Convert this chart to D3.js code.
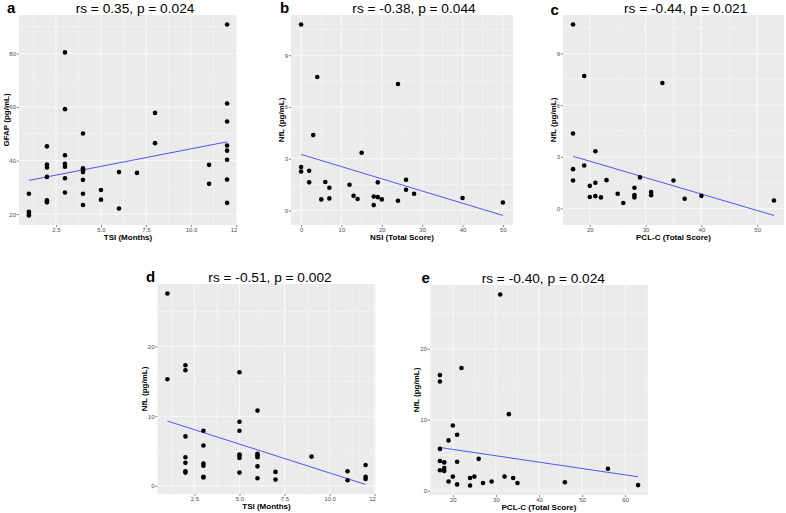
<!DOCTYPE html>
<html>
<head>
<meta charset="utf-8">
<script src="https://cdn.jsdelivr.net/npm/d3@7"></script>
<style>
  body { margin: 0; background: #fff; }
  svg { display: block; font-family: "Liberation Sans", Arial, sans-serif; }
</style>
</head>
<body>
<div id="chart"></div>
<script>
// panel a: TSI vs GFAP
const aTsi = [1, 1, 1, 1, 2, 2, 2, 2, 2, 2, 3, 3, 3, 3, 3, 3, 3, 4, 4, 4, 4, 4, 4, 4, 5, 5, 6, 6, 7, 8, 8, 11, 11, 12, 12, 12, 12, 12, 12, 12, 12];
const aGfap = [27.6, 20.9, 20.2, 19.5, 45.3, 38.5, 37.4, 33.9, 25.2, 24.4, 80.4, 59.2, 42.0, 38.8, 37.7, 33.4, 28.1, 50.1, 37.1, 36.4, 35.7, 32.8, 27.6, 23.4, 29.0, 25.4, 35.7, 22.1, 35.4, 57.8, 46.5, 38.4, 31.3, 90.8, 61.3, 54.6, 45.6, 43.7, 40.3, 32.9, 24.2];
const aFitX = [1, 12];
const aFitY = [32.6, 47.0];

// panel b: NSI vs NfL
const bNsi = [0, 0, 0, 2, 2, 3, 4, 5, 6, 7, 7, 12, 13, 14, 15, 18, 18, 19, 19, 20, 24, 24, 26, 26, 28, 40, 50];
const bNfl = [10.78, 2.52, 2.26, 2.30, 1.63, 4.37, 7.74, 0.64, 1.65, 1.32, 0.70, 1.49, 0.85, 0.66, 3.35, 0.81, 0.31, 1.63, 0.77, 0.64, 7.33, 0.56, 1.78, 1.20, 0.97, 0.72, 0.46];
const bFitX = [0, 50];
const bFitY = [3.25, -0.29];

// panel c: PCL-C vs NfL
const cPcl = [17, 17, 17, 17, 19, 19, 20, 20, 21, 21, 21, 22, 23, 25, 26, 28, 28, 28, 29, 31, 31, 33, 35, 37, 40, 53];
const cNfl = [10.68, 4.35, 2.28, 1.62, 7.69, 2.49, 1.31, 0.66, 3.32, 1.49, 0.71, 0.64, 1.64, 0.85, 0.31, 1.20, 0.77, 0.64, 1.80, 0.95, 0.77, 7.28, 1.62, 0.56, 0.73, 0.46];
const cFitX = [17, 53];
const cFitY = [3.03, -0.41];

// panel d: TSI vs NfL
const dTsi = [1, 1, 2, 2, 2, 2, 2, 2, 2, 3, 3, 3, 3, 3, 3, 5, 5, 5, 5, 5, 5, 5, 6, 6, 6, 6, 6, 6, 7, 7, 9, 11, 11, 12, 12, 12];
const dNfl = [27.6, 15.3, 17.3, 16.6, 7.1, 4.1, 3.3, 2.1, 1.9, 7.9, 5.8, 3.2, 2.9, 1.3, 1.2, 16.3, 9.2, 7.9, 4.5, 4.3, 4.0, 1.9, 10.8, 4.6, 4.4, 4.1, 2.8, 1.1, 2.0, 0.9, 4.2, 2.1, 0.8, 3.0, 1.3, 1.0];
const dFitX = [1, 12];
const dFitY = [9.3, 0.2];

// panel e: PCL-C vs NfL
const ePcl = [31, 22, 17, 17, 33, 20, 21, 19, 17, 17, 18, 21, 26, 18, 18, 17, 56, 20, 25, 24, 32, 34, 19, 27, 29, 35, 46, 21, 24, 63];
const eNfl = [27.65, 17.3, 16.3, 15.4, 10.8, 9.2, 7.9, 7.1, 5.9, 4.2, 4.0, 4.1, 4.5, 3.2, 2.8, 2.9, 3.1, 2.0, 2.0, 1.8, 2.0, 1.8, 1.3, 1.1, 1.3, 1.1, 1.2, 0.9, 0.75, 0.8];
const eFitX = [17, 63];
const eFitY = [6.1, 1.97];

// tick values
const tsiTicks = [2.5, 5, 7.5, 10, 12.5];
const gfapTicks = [20, 40, 60, 80];
const nsiTicks = [0, 10, 20, 30, 40, 50];
const pclTicksC = [20, 30, 40, 50];
const pclTicksE = [20, 30, 40, 50, 60];
const nflTicksSmall = [0, 3, 6, 9];
const nflTicksLarge = [0, 10, 20];

const letters = ['a', 'b', 'c', 'd', 'e'];
const titles = [
  'rs = 0.35, p = 0.024',
  'rs = -0.38, p = 0.044',
  'rs = -0.44, p = 0.021',
  'rs = -0.51, p = 0.002',
  'rs = -0.40, p = 0.024',
];
const xTitles = ['TSI (Months)', 'NSI (Total Score)', 'PCL-C (Total Score)', 'TSI (Months)', 'PCL-C (Total Score)'];
const yTitles = ['GFAP (pg/mL)', 'NfL (pg/mL)', 'NfL (pg/mL)', 'NfL (pg/mL)', 'NfL (pg/mL)'];

const width = 786;
const height = 513;

const svg = d3.select('#chart')
  .append('svg')
  .attr('width', width)
  .attr('height', height);

const panels = [
  { x: aTsi, y: aGfap, fx: aFitX, fy: aFitY, xt: tsiTicks, yt: gfapTicks, xf: '.1f', yf: 'd',
    left: 19, top: 15, w: 218, h: 210, yTitleOff: 13, letterX: 7, letterY: 12.7, titleX: 135 },
  { x: bNsi, y: bNfl, fx: bFitX, fy: bFitY, xt: nsiTicks, yt: nflTicksSmall, xf: 'd', yf: 'd',
    left: 291, top: 15, w: 222, h: 210, yTitleOff: 10, letterX: 280, letterY: 13.3, titleX: 414 },
  { x: cPcl, y: cNfl, fx: cFitX, fy: cFitY, xt: pclTicksC, yt: nflTicksSmall, xf: 'd', yf: 'd',
    left: 563, top: 15, w: 221, h: 210, yTitleOff: 10, letterX: 550.5, letterY: 14.5, titleX: 685.7 },
  { x: dTsi, y: dNfl, fx: dFitX, fy: dFitY, xt: tsiTicks, yt: nflTicksLarge, xf: '.1f', yf: 'd',
    left: 157.5, top: 284, w: 218, h: 210, yTitleOff: 13.5, letterX: 146, letterY: 282.3, titleX: 270 },
  { x: ePcl, y: eNfl, fx: eFitX, fy: eFitY, xt: pclTicksE, yt: nflTicksLarge, xf: 'd', yf: 'd',
    left: 430, top: 285, w: 218, h: 210, yTitleOff: 14.5, letterX: 421.5, letterY: 283.3, titleX: 543.3 },
];

// ggplot style 5% expansion
function expanded(values) {
  const [lo, hi] = d3.extent(values);
  const pad = (hi - lo) * 0.05;
  return [lo - pad, hi + pad];
}

function minorBreaks(ticks, domain) {
  const step = ticks[1] - ticks[0];
  const out = [];
  for (let v = ticks[0] - step / 2; v <= domain[1]; v += step) {
    if (v >= domain[0]) out.push(v);
  }
  return out;
}

panels.forEach((p, i) => {
  const x = d3.scaleLinear()
    .domain(expanded(p.x.concat(p.fx)))
    .range([0, p.w]);
  const y = d3.scaleLinear()
    .domain(expanded(p.y.concat(p.fy)))
    .range([p.h, 0]);

  const g = svg.append('g')
    .attr('transform', `translate(${p.left}, ${p.top})`);

  g.append('rect')
    .attr('width', p.w)
    .attr('height', p.h)
    .attr('fill', '#EBEBEB');

  // minor grid
  g.selectAll('.minor-x')
    .data(minorBreaks(p.xt, x.domain()))
    .enter().append('line')
    .attr('x1', (d) => x(d)).attr('x2', (d) => x(d))
    .attr('y1', 0).attr('y2', p.h)
    .attr('stroke', '#fff').attr('stroke-width', 0.35);
  g.selectAll('.minor-y')
    .data(minorBreaks(p.yt, y.domain()))
    .enter().append('line')
    .attr('y1', (d) => y(d)).attr('y2', (d) => y(d))
    .attr('x1', 0).attr('x2', p.w)
    .attr('stroke', '#fff').attr('stroke-width', 0.35);

  // major grid
  g.selectAll('.major-x')
    .data(p.xt.filter((d) => d <= x.domain()[1]))
    .enter().append('line')
    .attr('x1', (d) => x(d)).attr('x2', (d) => x(d))
    .attr('y1', 0).attr('y2', p.h)
    .attr('stroke', '#fff').attr('stroke-width', 0.7);
  g.selectAll('.major-y')
    .data(p.yt)
    .enter().append('line')
    .attr('y1', (d) => y(d)).attr('y2', (d) => y(d))
    .attr('x1', 0).attr('x2', p.w)
    .attr('stroke', '#fff').attr('stroke-width', 0.7);

  // x axis, labels past the panel edge are cut like in the figure
  const clipId = `clip-x-${i}`;
  svg.append('clipPath')
    .attr('id', clipId)
    .append('rect')
    .attr('x', -20).attr('y', -2)
    .attr('width', p.w + 20.5).attr('height', 20);

  const xAxisGroup = g.append('g')
    .attr('transform', `translate(0, ${p.h})`)
    .attr('clip-path', `url(#${clipId})`)
    .call(d3.axisBottom(x).tickValues(p.xt).tickSize(2.2).tickPadding(0.8)
      .tickFormat(d3.format(p.xf)));

  const yAxisGroup = g.append('g')
    .call(d3.axisLeft(y).tickValues(p.yt).tickSize(2.2).tickPadding(0.8)
      .tickFormat(d3.format(p.yf)));

  [xAxisGroup, yAxisGroup].forEach((ax) => {
    ax.select('.domain').remove();
    ax.selectAll('line').attr('stroke', '#333').attr('stroke-width', 0.6);
    ax.selectAll('text')
      .attr('fill', '#4D4D4D')
      .style('font-size', '6px')
      .style('font-family', '"Liberation Sans", Arial, sans-serif');
  });

  // regression line
  g.append('line')
    .attr('x1', x(p.fx[0])).attr('y1', y(p.fy[0]))
    .attr('x2', x(p.fx[1])).attr('y2', y(p.fy[1]))
    .attr('stroke', '#2B2BFF')
    .attr('stroke-width', 0.8);

  // points
  g.selectAll('circle')
    .data(p.x.map((v, k) => [v, p.y[k]]))
    .enter().append('circle')
    .attr('cx', (d) => x(d[0]))
    .attr('cy', (d) => y(d[1]))
    .attr('r', 2.3)
    .attr('fill', '#000');

  // axis titles
  g.append('text')
    .attr('x', p.w / 2)
    .attr('y', p.h + 15)
    .attr('text-anchor', 'middle')
    .style('font-size', '8px')
    .style('font-weight', 'bold')
    .attr('fill', '#000')
    .text(xTitles[i]);

  g.append('text')
    .attr('transform', `translate(${-p.yTitleOff + 3}, ${p.h / 2}) rotate(-90)`)
    .attr('text-anchor', 'middle')
    .style('font-size', '8px')
    .style('font-weight', 'bold')
    .attr('fill', '#000')
    .text(yTitles[i]);

  // title and panel letter
  svg.append('text')
    .attr('x', p.titleX)
    .attr('y', p.top - 2.4)
    .attr('text-anchor', 'middle')
    .style('font-size', '13.7px')
    .attr('fill', '#000')
    .text(titles[i]);

  svg.append('text')
    .attr('x', p.letterX)
    .attr('y', p.letterY)
    .style('font-size', '15px')
    .style('font-weight', 'bold')
    .attr('fill', '#000')
    .text(letters[i]);
});
</script>
</body>
</html>
